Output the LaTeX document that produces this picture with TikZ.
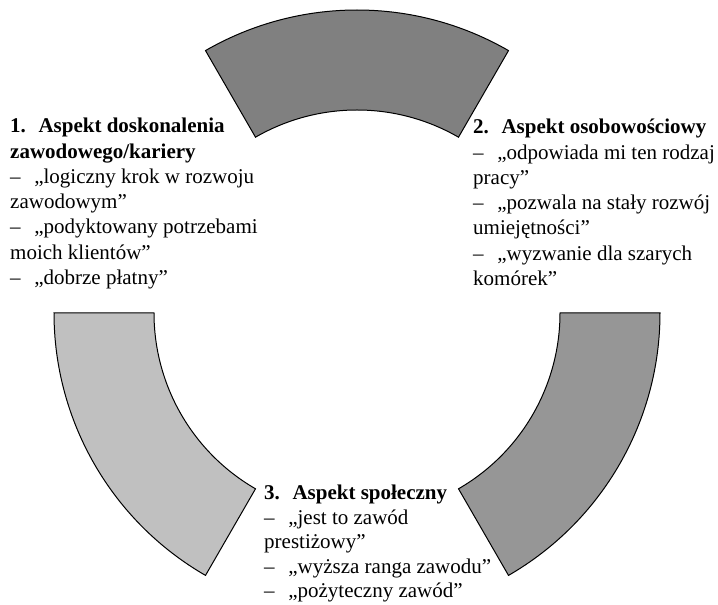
\documentclass[tikz,border=0pt]{standalone}
\usepackage{tikz}
\usepackage{fontspec}
\setmainfont{Liberation Serif}
\usetikzlibrary{positioning}
\definecolor{segTop}{RGB}{128,128,128}
\definecolor{segRight}{RGB}{150,150,150}
\definecolor{segLeft}{RGB}{192,192,192}
\tikzset{segment/.style={draw=black,line width=1pt},
aspect/.style={anchor=north west,inner sep=0pt,align=left,font=\fontsize{21}{25.3}\selectfont}}
\newcommand{\dsh}{–\hspace{0.65em}}

\begin{document}
\begin{tikzpicture}[x=1pt,y=1pt]
\useasboundingbox (0,0) rectangle (718,605);
\begin{scope}[shift={(357,292)}]
\filldraw[segment,fill=segTop] (60:303) arc[start angle=60,end angle=120,radius=303] -- (120:203) arc[start angle=120,end angle=60,radius=203] -- cycle;
\filldraw[segment,fill=segLeft] (180:303) arc[start angle=180,end angle=240,radius=303] -- (240:203) arc[start angle=240,end angle=180,radius=203] -- cycle;
\filldraw[segment,fill=segRight] (300:303) arc[start angle=300,end angle=360,radius=303] -- (0:203) arc[start angle=0,end angle=-60,radius=203] -- cycle;
\end{scope}
\node[aspect] (doskonalenie) at (10,487)
{\textbf{1.\hspace{0.6em}Aspekt doskonalenia}\\ \textbf{zawodowego/kariery}\\ \dsh„logiczny krok w rozwoju\\ zawodowym”\\ \dsh„podyktowany potrzebami\\ moich klientów”\\ \dsh„dobrze płatny”};
\node[aspect] (osobowosc) at (473,486)
{\textbf{2.\hspace{0.6em}Aspekt osobowościowy}\\ \dsh„odpowiada mi ten rodzaj\\ pracy”\\ \dsh„pozwala na stały rozwój\\ umiejętności”\\ \dsh„wyzwanie dla szarych\\ komórek”};
\node[aspect,font=\fontsize{21}{24.5}\selectfont] (spoleczny) at (264,120)
{\textbf{3.\hspace{0.6em}Aspekt społeczny}\\ \dsh„jest to zawód\\ prestiżowy”\\ \dsh„wyższa ranga zawodu”\\ \dsh„pożyteczny zawód”};
\end{tikzpicture}
\end{document}
